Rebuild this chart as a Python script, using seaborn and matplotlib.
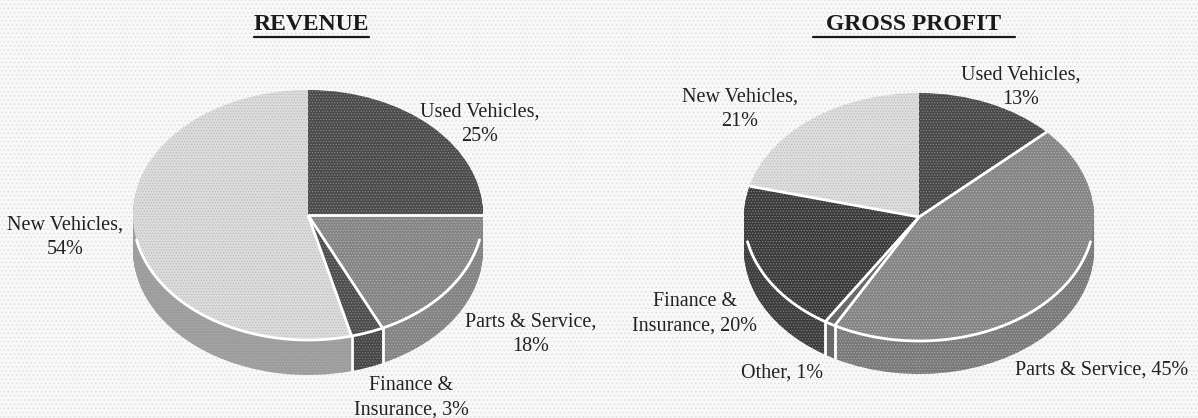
import numpy as np
import matplotlib
matplotlib.use('Agg')
import matplotlib.pyplot as plt
from matplotlib.patches import Rectangle
import seaborn as sns

# values, clockwise from 12 o'clock
revenue_values = [25, 18, 3, 54]
revenue_top = ['#4a4a4a', '#848484', '#4c4c4c', '#dcdcdc']
revenue_wall = ['#404040', '#828282', '#464646', '#9c9c9c']

profit_values = [13, 45, 1, 20, 21]
profit_top = ['#484848', '#848484', '#646464', '#3a3a3a', '#dedede']
profit_wall = ['#404040', '#787878', '#646464', '#3c3c3c', '#a4a4a4']

revenue_title = 'REVENUE'
profit_title = 'GROSS PROFIT'

# label text, pixel centre x, pixel centre y
labels = [
    ('Used Vehicles,\n25%', 480, 124),
    ('New Vehicles,\n54%', 65, 237),
    ('Parts & Service,\n18%', 531, 334),
    ('Finance &\nInsurance, 3%', 411, 398),
    ('Used Vehicles,\n13%', 1021, 87),
    ('New Vehicles,\n21%', 740, 109),
    ('Finance &\nInsurance, 20%', 695, 314),
    ('Other, 1%', 782, 373),
    ('Parts & Service, 45%', 1102, 370),
]

W, H = 1198, 418

sns.set_theme(style='white')
plt.rcParams['font.family'] = ['Liberation Serif', 'DejaVu Serif']
plt.rcParams['hatch.linewidth'] = 0.5

RIM_CUT = 0.2  # the wall and the white rim start this far (radians) below the widest point


def speckle(wedges):
    # halftone look of the scan
    for w in wedges:
        r = w.get_facecolor()[0]
        w.set_hatch('......')
        if r < 0.4:
            w.set_edgecolor('#8c8c8c')
        elif r < 0.7:
            w.set_edgecolor('#b4b4b4')
        else:
            w.set_edgecolor('#bababa')
        w.set_linewidth(0)


def draw_pie(fig, values, top, wall, cx, cy, rx, ry, depth):
    # axes sized in pixels so the unit circle comes out as the tilted ellipse
    pad = 1.08
    d = depth / ry
    left = (cx - rx * pad) / W
    bottom = 1 - (cy + ry * pad + depth) / H
    ax = fig.add_axes([left, bottom, 2 * rx * pad / W, (2 * ry * pad + depth) / H])

    # stack of shifted pies makes the side wall
    cut = -np.sin(RIM_CUT)
    for off in np.arange(depth, 0, -1):
        wedges, _ = ax.pie(values, colors=sns.color_palette(wall), startangle=90, counterclock=False,
                           center=(0, -off / ry), radius=1, wedgeprops={'linewidth': 0})
        speckle(wedges)
        for w in wedges:
            w.set_clip_path(Rectangle((-2, -4), 4, 4 + cut, transform=ax.transData))
    wedges, _ = ax.pie(values, colors=sns.color_palette(top), startangle=90, counterclock=False,
                       radius=1, wedgeprops={'linewidth': 0})
    speckle(wedges)

    # white gaps: radial on the top, rim at the front, vertical on the wall
    angles = np.cumsum(values) / np.sum(values) * 2 * np.pi
    for a in angles[:-1]:
        ax.plot([0, np.sin(a)], [0, np.cos(a)], color='white', lw=2, solid_capstyle='butt')
        if np.cos(a) < 0:
            ax.vlines(np.sin(a), np.cos(a) - d, np.cos(a), color='white', lw=2)
    t = np.linspace(np.pi / 2 + RIM_CUT, 3 * np.pi / 2 - RIM_CUT, 200)
    ax.plot(np.sin(t), np.cos(t), color='white', lw=2)

    ax.set_aspect('auto')
    ax.set_xlim(-pad, pad)
    ax.set_ylim(-pad - d, pad)
    return ax


def draw_title(fig, text, cx, x0, x1):
    fig.text(cx / W, 1 - 24 / H, text, ha='center', va='center', fontsize=17,
             fontweight='bold', color='#1a1a1a')
    fig.add_artist(plt.Line2D([x0 / W, x1 / W], [1 - 37 / H, 1 - 37 / H], color='#1a1a1a', lw=1.6))


fig = plt.figure(figsize=(W / 100, H / 100), dpi=100, facecolor='#f4f4f4')

# halftone paper
bg = fig.add_axes([0, 0, 1, 1])
bg.set_axis_off()
bg.add_patch(Rectangle((0, 0), 1, 1, facecolor='#f8f8f8', edgecolor='#dcdcdc', hatch='....', lw=0))

draw_pie(fig, revenue_values, revenue_top, revenue_wall, 308, 215, 175, 125, 35)
draw_pie(fig, profit_values, profit_top, profit_wall, 919, 217, 175, 124, 33)

draw_title(fig, revenue_title, 311, 254, 369)
draw_title(fig, profit_title, 914, 813, 1015)

for text, x, y in labels:
    fig.text(x / W, 1 - y / H, text, ha='center', va='center', fontsize=14.5,
             color='#222222', linespacing=1.4)

fig.savefig('out.png', dpi=100, facecolor=fig.get_facecolor())
plt.close()
